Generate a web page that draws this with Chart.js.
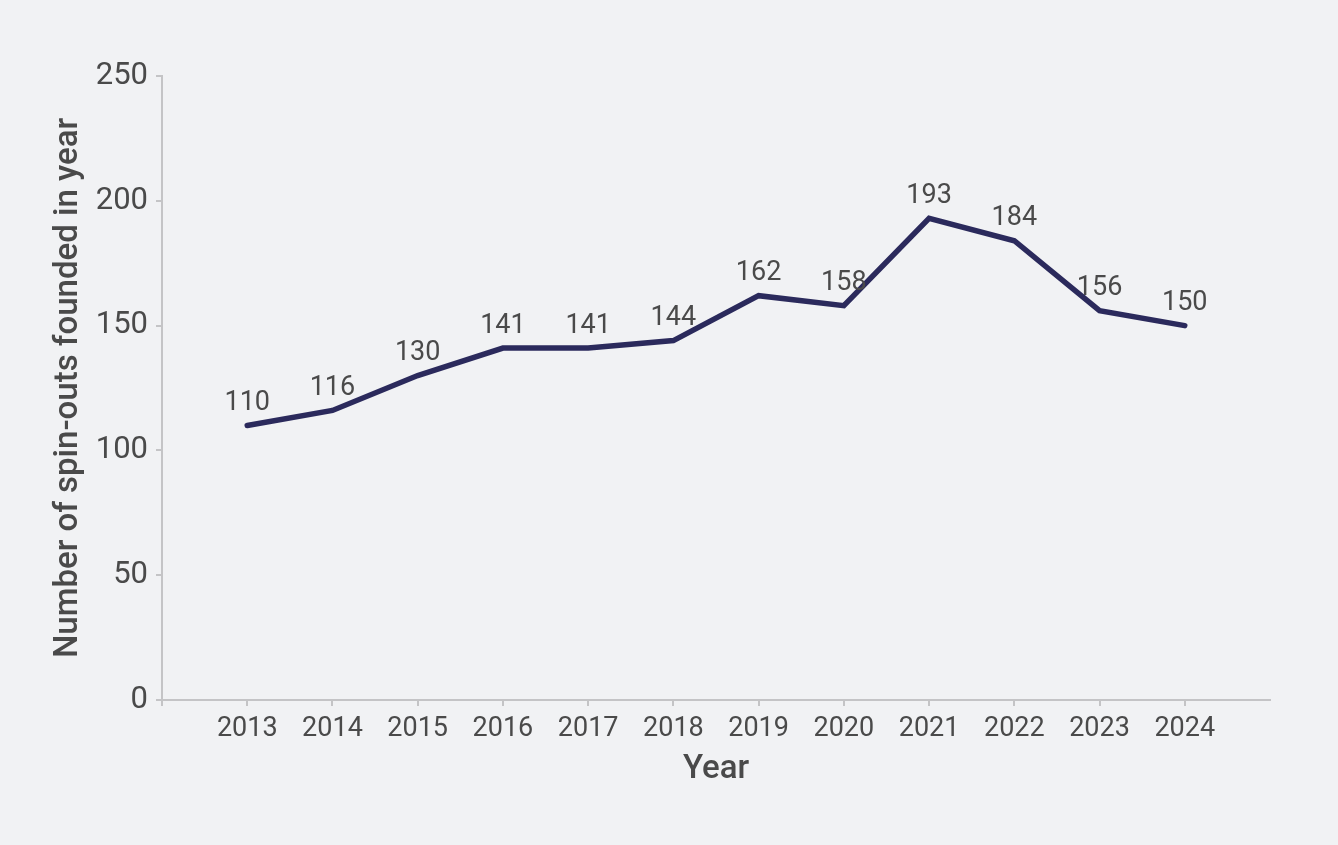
<!DOCTYPE html>
<html>
<head>
<meta charset="utf-8">
<script src="https://cdn.jsdelivr.net/npm/chart.js@4"></script>
<style>
  html, body { margin: 0; padding: 0; background: #f1f2f4; }
  #wrap { width: 1338px; height: 845px; }
</style>
</head>
<body>
<div id="wrap"><canvas id="c" width="1338" height="845"></canvas></div>
<script>
const years = [2013, 2014, 2015, 2016, 2017, 2018, 2019, 2020, 2021, 2022, 2023, 2024];
const spinouts = [110, 116, 130, 141, 141, 144, 162, 158, 193, 184, 156, 150];
const yTicks = [0, 50, 100, 150, 200, 250];

const textColor = '#4a4a4a';
const axisColor = '#c4c4c6';
const lineColor = '#2b2a5c';

const labelPlugin = {
  id: 'pointLabels',
  afterDatasetsDraw(chart) {
    const ctx = chart.ctx;
    const meta = chart.getDatasetMeta(0);
    ctx.save();
    ctx.font = '400 27px Roboto';
    ctx.fillStyle = textColor;
    ctx.textAlign = 'center';
    ctx.textBaseline = 'middle';
    meta.data.forEach((pt, i) => {
      ctx.fillText(String(spinouts[i]), pt.x, pt.y - 22);
    });
    ctx.restore();
  }
};

new Chart(document.getElementById('c'), {
  type: 'line',
  data: {
    datasets: [{
      data: years.map((y, i) => ({ x: y, y: spinouts[i] })),
      borderColor: lineColor,
      borderWidth: 5.5,
      pointRadius: 0,
      tension: 0,
      borderCapStyle: 'round',
      borderJoinStyle: 'miter',
      fill: false
    }]
  },
  options: {
    responsive: false,
    animation: false,
    devicePixelRatio: 1,
    layout: { padding: { left: 0, top: 76, right: 68, bottom: 0 } },
    plugins: { legend: { display: false }, tooltip: { enabled: false } },
    scales: {
      x: {
        type: 'linear',
        min: years[0] - 1,
        max: years[years.length - 1] + 1,
        afterBuildTicks(scale) {
          const t = [{ value: years[0] - 1 }];
          years.forEach(v => t.push({ value: v }));
          scale.ticks = t;
        },
        afterFit(scale) { scale.height = 145; },
        border: { display: true, color: axisColor, width: 2 },
        grid: {
          display: true,
          drawOnChartArea: false,
          drawTicks: true,
          tickLength: 6,
          color: axisColor,
          lineWidth: 2
        },
        ticks: {
          autoSkip: false,
          maxRotation: 0,
          padding: 7,
          color: textColor,
          font: { family: 'Roboto', size: 27 },
          callback: (v) => years.includes(v) ? String(v) : ''
        },
        title: {
          display: true,
          text: 'Year',
          color: textColor,
          font: { family: 'Roboto', size: 33, weight: '500' },
          padding: { top: 0, bottom: 55 }
        }
      },
      y: {
        min: 0,
        max: 250,
        afterBuildTicks(scale) { scale.ticks = yTicks.map(v => ({ value: v })); },
        afterFit(scale) { scale.width = 162; },
        border: { display: true, color: axisColor, width: 2 },
        grid: {
          display: true,
          drawOnChartArea: false,
          drawTicks: true,
          tickLength: 6,
          color: axisColor,
          lineWidth: 2
        },
        ticks: {
          padding: 8,
          color: textColor,
          font: { family: 'Roboto', size: 31 }
        },
        title: {
          display: true,
          text: 'Number of spin-outs founded in year',
          color: textColor,
          font: { family: 'Roboto', size: 33, weight: '500' },
          padding: { top: 49, bottom: 0 }
        }
      }
    }
  },
  plugins: [labelPlugin]
});
</script>
</body>
</html>
